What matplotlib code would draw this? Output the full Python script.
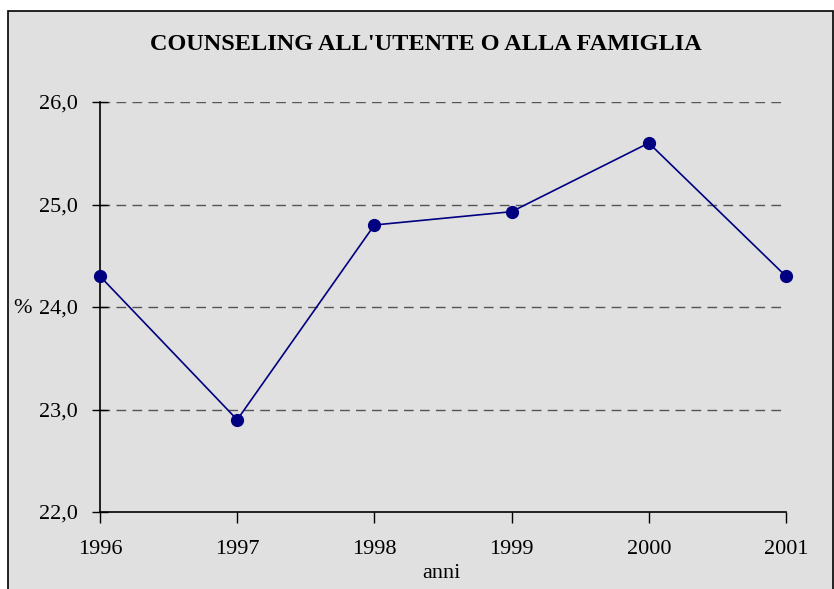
import matplotlib.pyplot as plt
from matplotlib.patches import Rectangle

years = [1996, 1997, 1998, 1999, 2000, 2001]
values = [24.3, 22.9, 24.8, 24.93, 25.6, 24.3]
y_ticks = [22.0, 23.0, 24.0, 25.0, 26.0]
y_labels = ["22,0", "23,0", "24,0", "25,0", "26,0"]


def main():
    plt.rcParams['font.family'] = ['Liberation Serif', 'DejaVu Serif']
    fig = plt.figure(figsize=(8.34, 5.89), dpi=100)
    fig.patch.set_facecolor("white")

    # grey chart area with black frame (bottom edge runs off the image)
    frame = Rectangle((8 / 834, -0.05), 825 / 834, 1.05 - 11 / 589,
                      transform=fig.transFigure, facecolor="#e0e0e0",
                      edgecolor="black", linewidth=1.2, zorder=-1)
    fig.patches.append(frame)

    ax = fig.add_axes([100 / 834, 1 - 512 / 589, 686 / 834, 410 / 589])
    ax.set_facecolor("none")

    for y in y_ticks[1:]:
        ax.axhline(y, color="#555555", linewidth=1, linestyle=(0, (7, 4.5)),
                   zorder=1)

    ax.plot(years, values, color="#000080", linewidth=1.2, marker="o",
            markersize=8.5, clip_on=False, zorder=3)

    ax.set_xlim(1996, 2001)
    ax.set_ylim(22, 26)
    ax.set_xticks(years)
    ax.set_xticklabels([str(y) for y in years], fontsize=16)
    ax.set_yticks(y_ticks)
    ax.set_yticklabels(y_labels, fontsize=16)
    ax.tick_params(axis="x", direction="out", length=8, width=1, pad=12)
    ax.tick_params(axis="y", direction="inout", length=12, width=1, pad=10)

    for side in ["top", "right"]:
        ax.spines[side].set_visible(False)
    for side in ["left", "bottom"]:
        ax.spines[side].set_linewidth(1.2)

    fig.text(426 / 834, 1 - 44 / 589, "COUNSELING ALL'UTENTE O ALLA FAMIGLIA",
             ha="center", va="center", fontsize=17.5, fontweight="bold")
    fig.text(23 / 834, 1 - 308 / 589, "%", ha="center", va="center",
             fontsize=16)
    fig.text(441 / 834, 1 - 574 / 589, "anni", ha="center", va="center",
             fontsize=16)

    fig.savefig("out.png", dpi=100)


if __name__ == "__main__":
    main()
